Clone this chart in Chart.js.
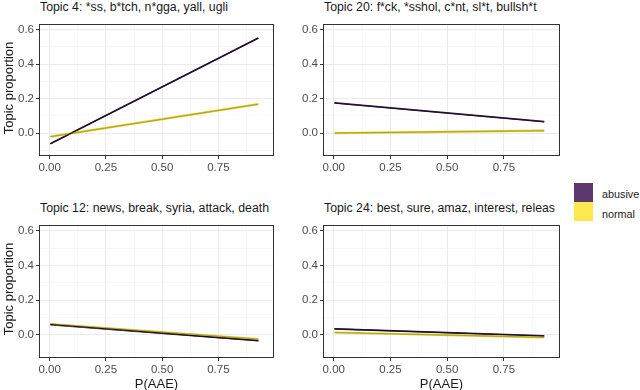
<!DOCTYPE html>
<html>
<head>
<meta charset="utf-8">
<script src="https://cdn.jsdelivr.net/npm/chart.js@4/dist/chart.umd.min.js"></script>
<style>
  body { margin: 0; background: #fff; font-family: "Liberation Sans", Arial, sans-serif; }
  #wrap { position: relative; width: 640px; height: 390px; overflow: hidden; }
  .panel { position: absolute; }
  .title { position: absolute; font-size: 12.3px; color: #1a1a1a; white-space: nowrap; }
  .ylab { position: absolute; font-size: 13px; color: #1a1a1a; white-space: nowrap; transform: translate(-50%, -50%) rotate(-90deg); }
  .xlab { position: absolute; font-size: 13px; color: #1a1a1a; white-space: nowrap; transform: translate(-50%, -50%); }
  .key { position: absolute; width: 19px; height: 19px; }
  .keytxt { position: absolute; font-size: 10.8px; color: #1a1a1a; white-space: nowrap; }
</style>
</head>
<body>
<div id="wrap"></div>
<script>
// fitted line endpoints along P(AAE)
const xEnds = [0.003, 0.928];
const topics = [
  'Topic 4: *ss, b*tch, n*gga, yall, ugli',
  'Topic 20: f*ck, *sshol, c*nt, sl*t, bullsh*t',
  'Topic 12: news, break, syria, attack, death',
  'Topic 24: best, sure, amaz, interest, releas'
];
const abusive = [[-0.062, 0.552], [0.175, 0.066], [0.060, -0.033], [0.035, -0.006]];
const normal  = [[-0.021, 0.168], [0.000, 0.014], [0.063, -0.024], [0.014, -0.014]];
const xTicks = [0, 0.25, 0.5, 0.75];
const xMinor = [0.125, 0.375, 0.625, 0.875];
const yTicks = [0, 0.2, 0.4, 0.6];
const yMinor = [-0.1, 0.1, 0.3, 0.5];
const seriesNames = ['abusive', 'normal'];
const keyCols = ['#5d386f', '#fce94f'];
const bandCols = ['#3d2250', '#e2cf2e'];
const bandWidths = [1.8, 2.2];
const lineCols = ['#1a0f20', '#7a6f20'];
const lineWidths = [1.1, 0.5];

// plot areas [left, top, right, bottom]
const boxes = [[39, 19, 274, 156], [323, 19, 560, 156], [39, 220, 274, 358], [323, 220, 560, 358]];
const wrap = document.getElementById('wrap');

function isMajor(list, v) {
  return list.some(t => Math.abs(t - v) < 1e-6);
}

const frame = {
  id: 'frame',
  afterDraw(chart) {
    const a = chart.chartArea, c = chart.ctx;
    c.save();
    c.strokeStyle = '#333333';
    c.lineWidth = 1;
    c.strokeRect(Math.round(a.left) + 0.5, Math.round(a.top) + 0.5, Math.round(a.right - a.left) - 1, Math.round(a.bottom - a.top) - 1);
    c.restore();
  }
};

function gridOpts(majors) {
  return {
    drawTicks: true,
    tickLength: 3,
    color: ctx => isMajor(majors, ctx.tick.value) ? '#ebebeb' : '#f3f3f3',
    lineWidth: ctx => isMajor(majors, ctx.tick.value) ? 1 : 0.6,
    tickColor: ctx => isMajor(majors, ctx.tick.value) ? '#333333' : 'rgba(0,0,0,0)',
    tickWidth: 1
  };
}

boxes.forEach((b, i) => {
  const [l, t, r, btm] = b;
  const div = document.createElement('div');
  div.className = 'panel';
  div.style.left = (l - 39) + 'px';
  div.style.top = (t - 4) + 'px';
  div.style.width = (r - l + 45) + 'px';
  div.style.height = (btm - t + 24) + 'px';
  const cv = document.createElement('canvas');
  div.appendChild(cv);
  wrap.appendChild(div);

  const title = document.createElement('div');
  title.className = 'title';
  title.textContent = topics[i];
  title.style.left = (l + 1) + 'px';
  title.style.top = (t - 19) + 'px';
  wrap.appendChild(title);

  const datasets = [];
  [abusive, normal].forEach((s, k) => {
    const pts = xEnds.map((x, j) => ({ x: x, y: s[i][j] }));
    datasets.push({ label: seriesNames[k] + ' band', data: pts, borderColor: bandCols[k], borderWidth: bandWidths[k], pointRadius: 0, order: 4 - k });
  });
  [abusive, normal].forEach((s, k) => {
    const pts = xEnds.map((x, j) => ({ x: x, y: s[i][j] }));
    datasets.push({ label: seriesNames[k], data: pts, borderColor: lineCols[k], borderWidth: lineWidths[k], pointRadius: 0, order: 1 });
  });

  new Chart(cv, {
    type: 'line',
    data: { datasets: datasets },
    options: {
      responsive: true,
      maintainAspectRatio: false,
      animation: false,
      layout: { padding: { top: 4, right: 6, left: 0, bottom: 0 } },
      plugins: { legend: { display: false }, tooltip: { enabled: false } },
      scales: {
        x: {
          type: 'linear',
          min: -0.0475,
          max: 0.9975,
          afterBuildTicks: s => { s.ticks = xTicks.concat(xMinor).map(v => ({ value: v })); },
          afterFit: s => { s.height = 20; },
          border: { display: false },
          grid: gridOpts(xTicks),
          ticks: {
            padding: 2,
            color: '#4d4d4d',
            font: { family: 'Liberation Sans', size: 11.5 },
            maxRotation: 0,
            autoSkip: false,
            callback: v => isMajor(xTicks, v) ? v.toFixed(2) : ''
          }
        },
        y: {
          type: 'linear',
          min: -0.133,
          max: 0.634,
          afterBuildTicks: s => { s.ticks = yTicks.concat(yMinor).map(v => ({ value: v })); },
          afterFit: s => { s.width = 39; },
          border: { display: false },
          grid: gridOpts(yTicks),
          ticks: {
            padding: 2,
            color: '#4d4d4d',
            font: { family: 'Liberation Sans', size: 11.5 },
            autoSkip: false,
            callback: v => isMajor(yTicks, v) ? v.toFixed(1) : ''
          }
        }
      }
    },
    plugins: [frame]
  });
});

// axis titles
[boxes[0], boxes[2]].forEach(b => {
  const y = document.createElement('div');
  y.className = 'ylab';
  y.textContent = 'Topic proportion';
  y.style.left = '8px';
  y.style.top = ((b[1] + b[3]) / 2) + 'px';
  wrap.appendChild(y);
});
[boxes[2], boxes[3]].forEach(b => {
  const x = document.createElement('div');
  x.className = 'xlab';
  x.textContent = 'P(AAE)';
  x.style.left = ((b[0] + b[2]) / 2) + 'px';
  x.style.top = '383px';
  wrap.appendChild(x);
});

// legend
seriesNames.forEach((n, k) => {
  const sq = document.createElement('div');
  sq.className = 'key';
  sq.style.left = '574px';
  sq.style.top = (183 + k * 19) + 'px';
  sq.style.background = keyCols[k];
  wrap.appendChild(sq);
  const tx = document.createElement('div');
  tx.className = 'keytxt';
  tx.textContent = n;
  tx.style.left = '602px';
  tx.style.top = (188 + k * 20) + 'px';
  wrap.appendChild(tx);
});
</script>
</body>
</html>
